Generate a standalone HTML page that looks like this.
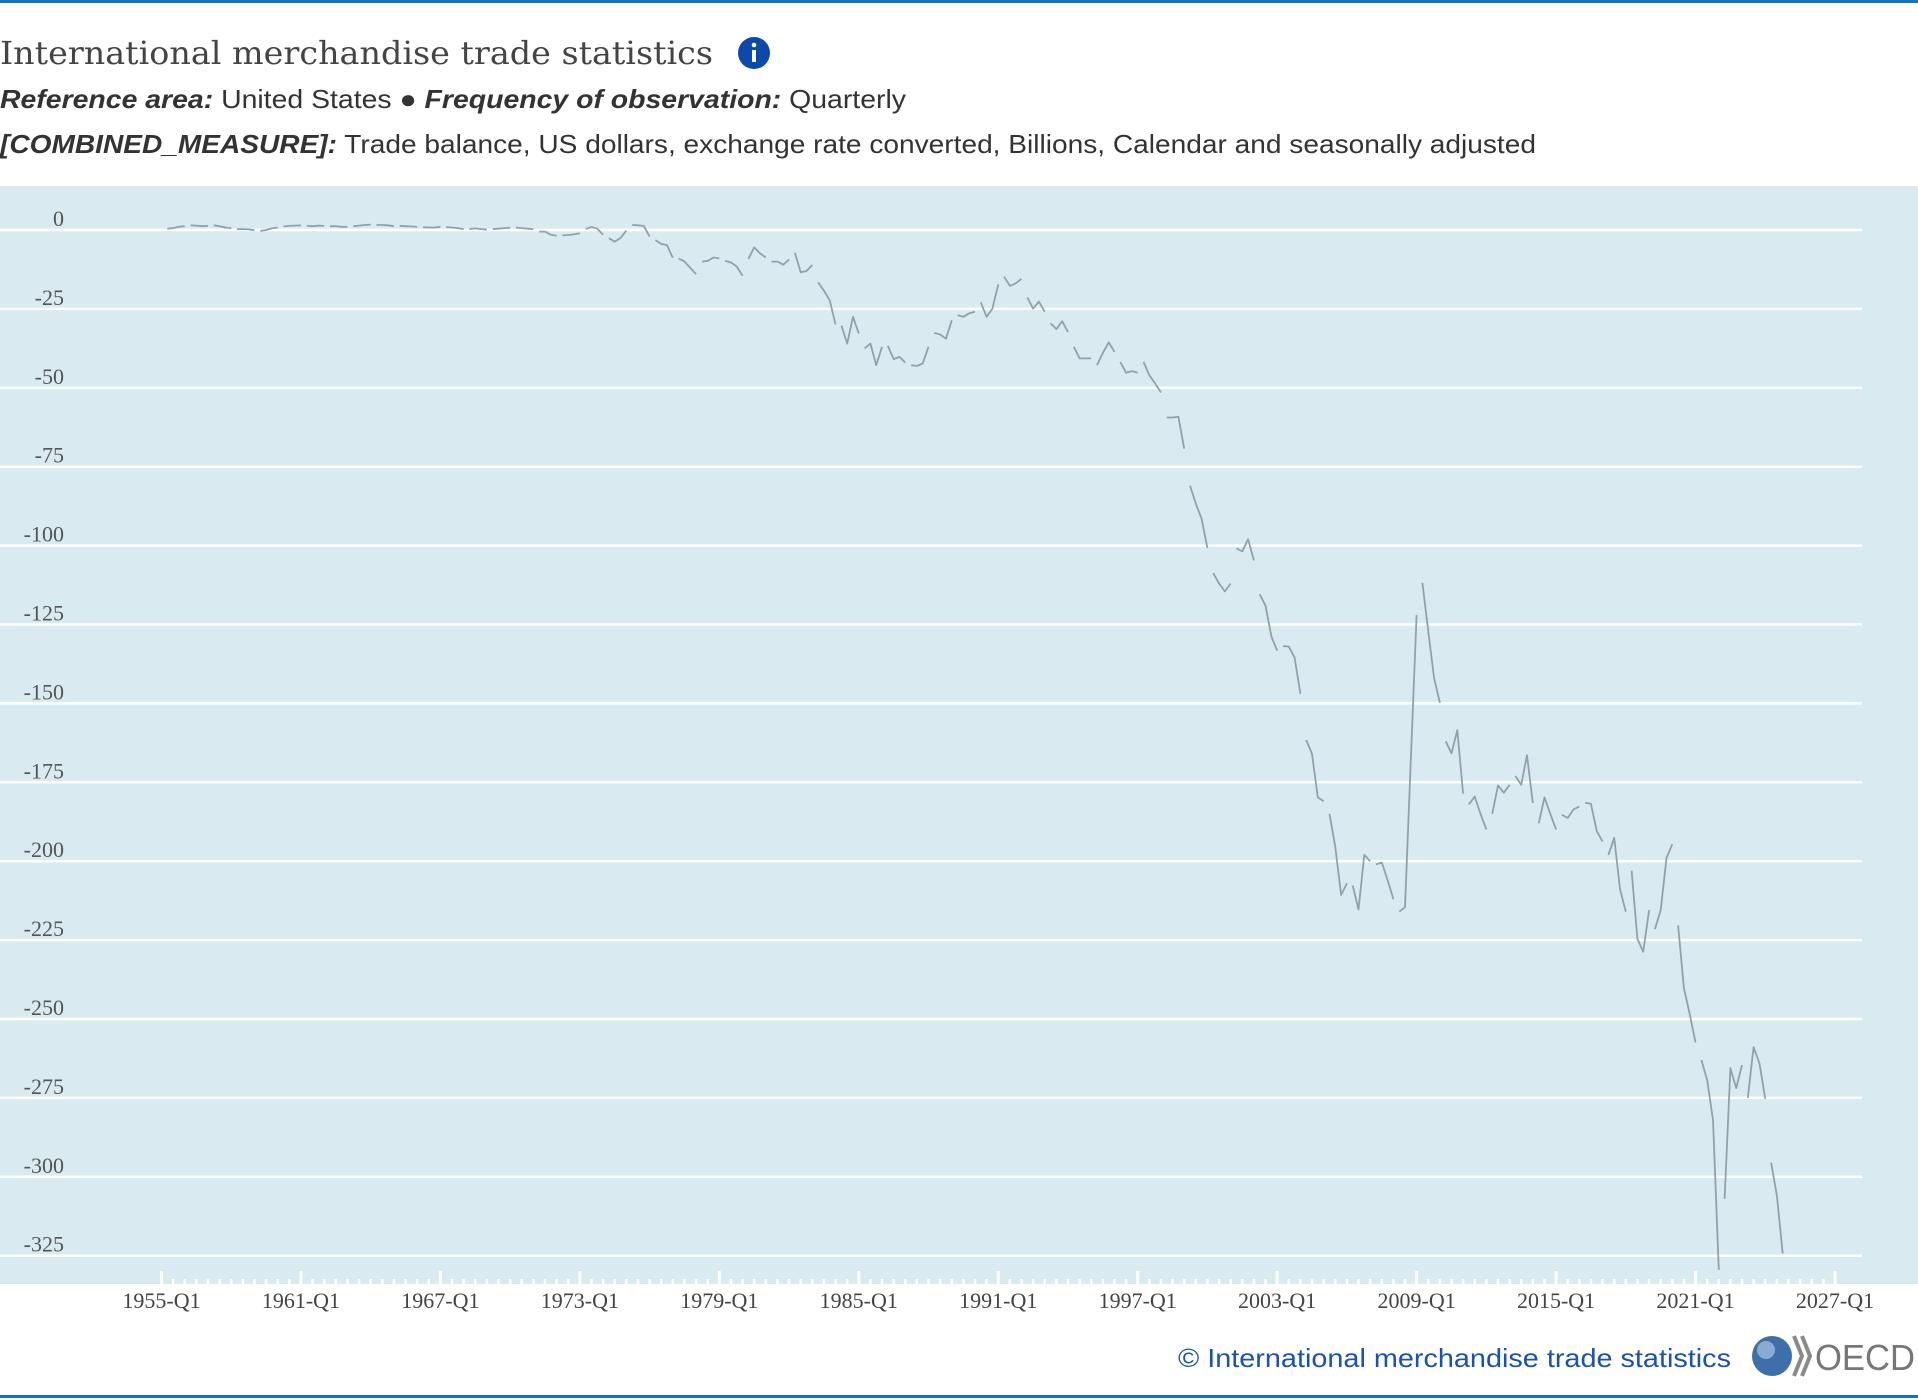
<!DOCTYPE html>
<html><head><meta charset="utf-8"><style>
html,body{margin:0;padding:0;background:#fff;width:1918px;height:1400px;overflow:hidden}
svg{display:block}
</style></head><body>
<svg id="chart" width="1918" height="1400" viewBox="0 0 1918 1400" xmlns="http://www.w3.org/2000/svg">
<rect x="0" y="0" width="1918" height="3" fill="#1275c4"/>
<text x="0" y="64" font-family="DejaVu Serif, serif" font-size="32" fill="#444" textLength="713" lengthAdjust="spacingAndGlyphs">International merchandise trade statistics</text>
<g>
<circle cx="754" cy="53" r="16" fill="#0b4aa8"/>
<circle cx="754" cy="45" r="2.3" fill="#fff"/>
<rect x="752" y="50" width="4" height="12" fill="#fff"/>
</g>
<text x="0" y="108" font-family="Liberation Sans, sans-serif" font-size="26" fill="#333" textLength="906" lengthAdjust="spacingAndGlyphs"><tspan font-weight="bold" font-style="italic">Reference area:</tspan> United States  ●  <tspan font-weight="bold" font-style="italic">Frequency of observation:</tspan> Quarterly</text>
<text x="0" y="153" font-family="Liberation Sans, sans-serif" font-size="26" fill="#333" textLength="1536" lengthAdjust="spacingAndGlyphs"><tspan font-weight="bold" font-style="italic">[COMBINED_MEASURE]:</tspan> Trade balance, US dollars, exchange rate converted, Billions, Calendar and seasonally adjusted</text>
<rect x="0" y="186" width="1918" height="1098" fill="#daeaf1"/>
<g id="grid"></g>
<g id="yticks"></g>
<g id="xticks"></g>
<g id="series"></g>
<text x="1178" y="1367" font-family="Liberation Sans, sans-serif" font-size="26" fill="#1a52ad" textLength="553" lengthAdjust="spacingAndGlyphs">©  International merchandise trade statistics</text>
<g>
<circle cx="1772" cy="1356" r="20" fill="#3f6fa8"/>
<circle cx="1766" cy="1350" r="9" fill="#a9c4df" opacity="0.7"/>
<path d="M1794 1336 l8 20 l-8 20 M1802 1336 l8 20 l-8 20" stroke="#8a8a8a" stroke-width="4" fill="none"/>
<text x="1815" y="1370" font-family="Liberation Sans, sans-serif" font-size="36" fill="#777" textLength="100" lengthAdjust="spacingAndGlyphs">OECD</text>
</g>
<rect x="0" y="1395" width="1918" height="3" fill="#1275c4"/>
</svg>
<script>
const yTickValues = [0,-25,-50,-75,-100,-125,-150,-175,-200,-225,-250,-275,-300,-325];
const xTickLabels = ["1955-Q1","1961-Q1","1967-Q1","1973-Q1","1979-Q1","1985-Q1","1991-Q1","1997-Q1","2003-Q1","2009-Q1","2015-Q1","2021-Q1","2027-Q1"];
const startYear = 1955;
const values1955_1976 = [
0.3,0.4,0.6,1.0, 1.2,1.5,1.4,1.2, 1.3,1.5,1.2,0.8, 0.6,0.3,0.3,0.2, -0.1,-0.3,0.0,0.5,
0.8,1.1,1.3,1.4, 1.5,1.3,1.2,1.4, 1.3,1.2,1.2,1.0, 1.0,1.2,1.4,1.6, 1.7,1.6,1.6,1.5,
1.2,1.3,1.2,1.1, 1.0,0.9,0.8,0.8, 1.0,0.9,0.8,0.6, 0.3,0.3,0.5,0.3, 0.1,0.3,0.4,0.6,
0.7,0.8,0.6,0.4, 0.3,-0.5,-0.5,-1.5, -1.8,-1.7,-1.6,-1.4, -1.0,0.3,1.0,0.4, -1.5,-2.6,-3.7,-2.5,
-0.2,1.6,1.5,1.3, -2.1,-3.2,-4.4,-4.8];
const values1977_2000 = [
-8.8,-9,-10,-12, -14,-10,-9.8,-8.7, -9,-9.8,-10.3,-11.6, -14.5,-9.2,-5.5,-7.4,
-8.7,-10,-10,-11, -9.3,-7.2,-13.4,-13, -11.1,-16.6,-19.2,-22.2, -29.9,-30.3,-36,-27.5,
-32.8,-37.5,-36,-42.8, -37,-36.7,-40.9,-40.2, -42,-42.8,-43.1,-42.3, -37,-32.6,-33.1,-34.4,
-28.6,-27,-27.5,-26.4, -25.9,-22.9,-27.5,-24.9, -17.2,-14.8,-17.7,-16.9, -15.5,-21.4,-24.9,-22.7,
-25.9,-29.6,-31.4,-28.9, -32.3,-37,-40.7,-40.7, -40.7,-42.8,-39,-35.6, -38.6,-41.8,-45.2,-44.7,
-45.2,-41.8,-46,-48.6, -51.5,-59.4,-59.4,-59.2, -69.3,-81,-86.7,-91.5, -100.8,-108.7,-112,-114.5];
const values2001_2024 = [
-112,-100.9,-101.8,-98, -104.7,-115.4,-119,-128.8, -133.3,-131.8,-132,-135.5, -147,-161.6,-166,-179.8,
-181,-185,-195.5,-210.7, -207,-207.7,-215.3,-198, -200,-201,-200.4,-206, -212,-216,-214.6,-168,
-122,-111.8,-127,-142, -149.8,-162,-165.8,-158.5, -178.6,-182,-179.5,-185, -190,-185,-176,-178.3,
-175.8,-173,-175.8,-166.4, -181.6,-188,-179.8,-185, -190,-185.3,-186.3,-183.6, -182.7,-181.5,-181.8,-190.5,
-193.8,-198,-192.6,-208.8, -216,-203,-224.6,-228.7, -215.5,-221.5,-215.5,-199, -194.6,-220.3,-240.2,-248.4,
-257.4,-263,-269.4,-282, -329.5,-307,-265.6,-271.9, -264.6,-275,-258.9,-264.1, -275.3,-295.5,-306,-324.3];
const seriesValues = values1955_1976.concat(values1977_2000, values2001_2024);

const NS = "http://www.w3.org/2000/svg";
const X0 = 161.5, X1 = 1835, Q_SPAN = 288;
function xScale(q){ return X0 + (X1 - X0) * q / Q_SPAN; }
function yScale(v){ return 230 - v / 25 * 78.9; }
function mk(tag, attrs, parent){ const e = document.createElementNS(NS, tag); for (const k in attrs) e.setAttribute(k, attrs[k]); parent.appendChild(e); return e; }

const grid = document.getElementById('grid');
const yt = document.getElementById('yticks');
yTickValues.forEach(v => {
  const g = mk('line', {x1:0, x2:1862, y1:yScale(v), y2:yScale(v), stroke:'#fff', 'stroke-width':2.5}, grid);
  
  
  const t = mk('text', {x:64, y:yScale(v)-4, 'text-anchor':'end', 'font-family':'Liberation Serif, serif', 'font-size':22, fill:'#555'}, yt);
  
  
  t.textContent = v;
});

const xt = document.getElementById('xticks');
for (let q = 0; q <= Q_SPAN; q += 2) {
  const major = q % 24 === 0;
  const tk = mk('line', {x1:xScale(q), x2:xScale(q), y1:major?1271:1279, y2:1284, stroke:'#fff', 'stroke-width':major?3:2.5}, xt);
  
  
}
xTickLabels.forEach((lab, i) => {
  const t = mk('text', {x:xScale(i*24), y:1308, 'text-anchor':'middle', 'font-family':'Liberation Serif, serif', 'font-size':22, fill:'#444'}, xt);
  
  
  t.textContent = lab;
});

const ser = document.getElementById('series');
let d = '';
for (let i = 0; i < seriesValues.length - 1; i++) {
  if (i % 4 === 0) continue;
  const a = seriesValues[i], b = seriesValues[i+1];
  if (a == null || b == null) continue;
  const prevDrawn = (i - 1) % 4 !== 0 && i > 0;
  if (!prevDrawn) d += 'M' + xScale(i).toFixed(1) + ' ' + yScale(a).toFixed(1);
  d += 'L' + xScale(i+1).toFixed(1) + ' ' + yScale(b).toFixed(1);
}
const path = mk('path', {d:d, fill:'none', stroke:'#8fa2ac', 'stroke-width':1.8, 'stroke-linejoin':'round'}, ser);


</script>
</body></html>
